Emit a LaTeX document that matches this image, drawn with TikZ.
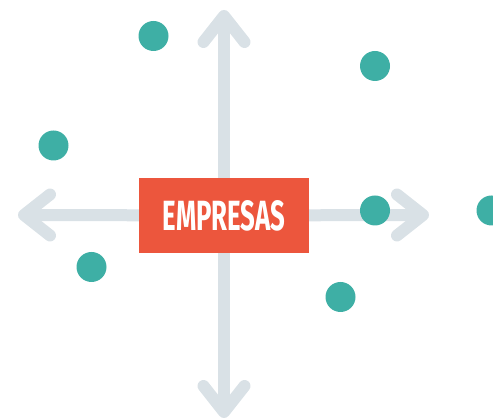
\documentclass[tikz,border=0pt]{standalone}
\usepackage{fontspec}
\setmainfont{Fira Sans}
\usepackage{tikz}
\definecolor{axisgray}{RGB}{217,225,230}
\definecolor{boxred}{RGB}{236,86,61}
\definecolor{dotteal}{RGB}{62,175,165}
\def\Depth{26}
\def\Half{20.5}
\tikzset{
  axisline/.style={draw=axisgray, line width=12pt},
  chevron/.pic={
    \draw[axisline, line cap=round, line join=round]
      (-\Depth,\Half) -- (0,0) -- (-\Depth,-\Half);
  },
  empbox/.style={fill=boxred, minimum width=170pt, minimum height=75pt, inner sep=0pt,
    text=white, font=\bfseries},
  dot/.style={circle, fill=dotteal, minimum size=30pt, inner sep=0pt}
}

\begin{document}
\begin{tikzpicture}[x=1pt,y=1pt]
\useasboundingbox (0,0) rectangle (493,419);
\coordinate (up) at (224,403);
\coordinate (down) at (224,7);
\coordinate (left) at (24,204);
\coordinate (right) at (423,204);
\node[empbox] (emp) at (224,203.5) {\raisebox{-2.5pt}{\resizebox{123pt}{30pt}{EMPRESAS}}};
\draw[axisline] (emp) -- (up);
\draw[axisline] (emp) -- (down);
\draw[axisline] (emp) -- (left);
\draw[axisline] (emp) -- (right);
\pic[rotate=90] at (up) {chevron};
\pic[rotate=-90] at (down) {chevron};
\pic[rotate=180] at (left) {chevron};
\pic at (right) {chevron};
% dots
\node[dot] (d1) at (153.5,383) {};
\node[dot] (d2) at (375,353) {};
\node[dot] (d3) at (53.5,273.5) {};
\node[dot] (d4) at (91.5,152) {};
\node[dot] (d5) at (375,208.5) {};
\node[dot] (d6) at (340.5,122) {};
\node[dot] (d7) at (491.5,208.5) {};
\end{tikzpicture}
\end{document}
